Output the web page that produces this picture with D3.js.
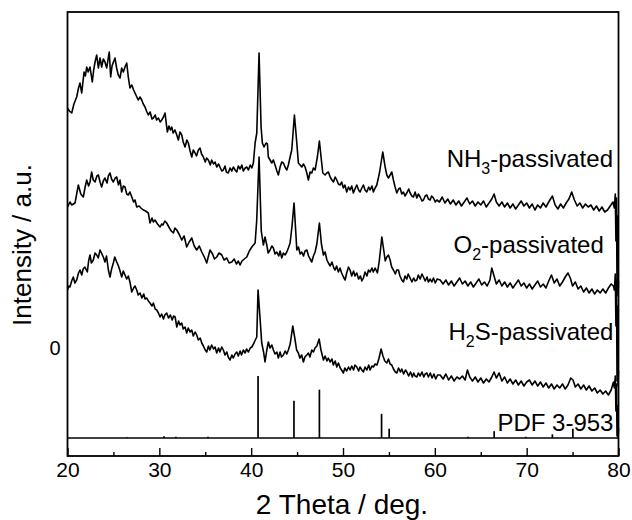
<!DOCTYPE html>
<html>
<head>
<meta charset="utf-8">
<script src="https://cdn.jsdelivr.net/npm/d3@7"></script>
<style>
  body { margin: 0; background: #fff; }
  svg { display: block; }
  text { font-family: "Liberation Sans", Arial, sans-serif; fill: #000; }
</style>
</head>
<body>
<svg id="chart" width="632" height="520"></svg>
<script>
// XRD patterns, [2theta, intensity (a.u., stacked)]
const nh3 = [[20.0,348],[20.2,345],[20.46,343],[20.7,352],[21.0,359],[21.2,368],[21.36,373],[21.55,363],[21.8,384],[21.95,380],[22.09,389],[22.25,384],[22.45,389],[22.6,380],[22.7,374],[22.85,386],[23.0,394],[23.18,401],[23.36,388],[23.54,398],[23.72,389],[23.9,397],[24.08,394],[24.27,388],[24.42,397],[24.55,404],[24.7,379],[24.85,390],[25.0,394],[25.17,398],[25.35,388],[25.53,381],[25.72,378],[25.9,388],[26.08,384],[26.3,390],[26.45,393],[26.62,379],[26.8,368],[27.0,371],[27.2,366],[27.35,363],[27.5,360],[27.7,356],[27.9,359],[28.08,356],[28.25,352],[28.44,349],[28.6,345],[28.8,341],[29.0,344],[29.2,337],[29.35,338],[29.55,341],[29.7,336],[29.9,338],[30.1,334],[30.26,336],[30.45,339],[30.62,343],[30.87,324],[31.05,330],[31.2,326],[31.35,329],[31.5,323],[31.7,326],[31.9,321],[32.07,316],[32.25,324],[32.44,321],[32.6,314],[32.8,309],[33.0,316],[33.16,313],[33.35,305],[33.53,299],[33.7,306],[33.89,303],[34.05,300],[34.25,306],[34.43,308],[34.6,302],[34.8,299],[35.0,294],[35.15,298],[35.34,296],[35.55,291],[35.7,296],[35.9,292],[36.07,294],[36.25,289],[36.45,292],[36.6,289],[36.8,285],[36.97,286],[37.15,290],[37.3,284],[37.5,283],[37.7,288],[37.9,285],[38.06,289],[38.25,286],[38.43,284],[38.6,290],[38.8,287],[38.98,291],[39.15,285],[39.35,288],[39.52,289],[39.7,286],[39.9,291],[40.07,288],[40.24,293],[40.43,313],[40.61,323],[40.86,403],[41.08,329],[41.22,313],[41.4,309],[41.62,313],[41.77,312],[41.87,299],[42.06,296],[42.24,293],[42.42,296],[42.6,291],[42.8,285],[42.96,281],[43.15,289],[43.33,294],[43.51,293],[43.69,289],[43.88,286],[44.05,291],[44.24,299],[44.42,306],[44.71,341],[44.97,313],[45.14,293],[45.33,291],[45.51,289],[45.7,292],[45.87,289],[46.06,283],[46.23,276],[46.42,284],[46.6,283],[46.78,288],[46.96,286],[47.21,299],[47.43,315],[47.61,299],[47.8,283],[48.05,281],[48.23,283],[48.41,284],[48.6,279],[48.8,276],[48.96,274],[49.15,279],[49.32,276],[49.5,272],[49.68,271],[49.85,274],[50.04,268],[50.2,271],[50.41,264],[50.6,269],[50.77,266],[50.95,270],[51.13,263],[51.3,267],[51.5,271],[51.7,266],[51.86,264],[52.05,268],[52.22,271],[52.4,266],[52.59,264],[52.8,269],[52.95,266],[53.15,270],[53.31,264],[53.5,268],[53.68,271],[53.97,283],[54.33,304],[54.59,289],[54.77,281],[54.95,278],[55.13,281],[55.31,284],[55.49,276],[55.67,269],[55.86,263],[56.05,267],[56.22,268],[56.4,262],[56.58,264],[56.75,260],[56.95,263],[57.15,267],[57.31,263],[57.5,260],[57.67,259],[57.85,264],[58.04,258],[58.2,262],[58.4,259],[58.6,255],[58.76,256],[58.95,260],[59.13,261],[59.3,257],[59.49,256],[59.65,260],[59.85,258],[60.05,254],[60.22,256],[60.5,254],[60.8,259],[61.1,253],[61.4,257],[61.7,252],[62.0,256],[62.3,251],[62.6,255],[62.9,250],[63.2,254],[63.5,258],[63.8,252],[64.1,255],[64.4,250],[64.7,254],[65.0,251],[65.3,255],[65.6,249],[65.9,253],[66.2,257],[66.45,262],[66.7,254],[67.0,250],[67.3,254],[67.6,249],[67.9,253],[68.2,248],[68.5,252],[68.8,247],[69.1,251],[69.4,255],[69.7,250],[70.0,253],[70.3,248],[70.6,252],[70.9,246],[71.2,251],[71.5,248],[71.8,253],[72.1,249],[72.4,254],[72.8,260],[73.1,251],[73.4,247],[73.7,252],[74.0,248],[74.3,253],[74.6,257],[74.9,264],[75.2,256],[75.5,250],[75.8,253],[76.1,248],[76.4,252],[76.7,249],[77.0,251],[77.3,246],[77.6,250],[77.9,245],[78.2,249],[78.5,244],[78.8,246],[79.1,250],[79.4,254],[79.55,248],[79.65,262],[79.72,215],[79.78,258],[79.84,165],[79.9,240],[79.95,160],[80.0,175]];

const o2 = [[20.0,249],[20.27,254],[20.46,251],[20.82,253],[21.0,262],[21.18,271],[21.45,262],[21.72,259],[21.9,268],[22.09,276],[22.3,270],[22.45,274],[22.63,284],[22.8,276],[23.0,274],[23.2,280],[23.36,281],[23.55,274],[23.72,269],[23.9,275],[24.08,278],[24.3,273],[24.45,280],[24.63,283],[24.8,277],[24.99,274],[25.2,278],[25.36,279],[25.55,271],[25.72,276],[25.9,264],[26.08,270],[26.26,269],[26.45,262],[26.62,261],[26.8,264],[27.0,259],[27.2,254],[27.35,256],[27.54,249],[27.8,250],[28.0,248],[28.26,246],[28.5,245],[28.8,243],[28.99,233],[29.2,238],[29.35,234],[29.53,236],[29.8,232],[30.08,229],[30.25,232],[30.4,231],[30.6,235],[30.8,233],[31.1,228],[31.3,225],[31.53,223],[31.7,228],[31.9,226],[32.2,221],[32.44,216],[32.7,220],[32.98,209],[33.25,214],[33.53,218],[33.8,210],[34.07,206],[34.35,210],[34.62,204],[34.9,199],[35.16,193],[35.35,200],[35.52,206],[35.8,202],[36.0,197],[36.25,199],[36.5,203],[36.8,201],[37.05,196],[37.34,198],[37.6,193],[37.89,194],[38.15,197],[38.4,192],[38.6,195],[38.79,191],[39.0,195],[39.25,197],[39.52,199],[39.8,205],[40.07,209],[40.25,211],[40.43,213],[40.6,235],[40.86,299],[41.1,225],[41.33,211],[41.51,219],[41.7,211],[41.85,203],[42.06,206],[42.25,210],[42.42,208],[42.6,202],[42.79,204],[43.0,200],[43.15,205],[43.33,198],[43.5,203],[43.69,201],[43.88,204],[44.05,208],[44.24,213],[44.45,230],[44.67,253],[44.85,225],[44.97,206],[45.15,209],[45.33,202],[45.51,204],[45.7,200],[45.87,205],[46.06,206],[46.25,200],[46.42,197],[46.6,194],[46.78,200],[46.96,204],[47.15,212],[47.43,233],[47.65,212],[47.87,201],[48.05,204],[48.25,196],[48.41,193],[48.6,190],[48.8,194],[49.0,188],[49.14,186],[49.3,190],[49.5,184],[49.68,188],[49.85,183],[50.05,179],[50.23,176],[50.4,183],[50.6,189],[50.77,186],[50.95,180],[51.15,185],[51.3,180],[51.5,183],[51.7,177],[51.9,180],[52.05,175],[52.22,178],[52.4,184],[52.6,180],[52.78,186],[52.95,184],[53.15,188],[53.3,184],[53.5,188],[53.75,183],[53.95,195],[54.23,219],[54.45,205],[54.6,195],[54.77,199],[54.95,201],[55.13,196],[55.3,189],[55.49,186],[55.7,182],[55.85,186],[56.04,186],[56.2,180],[56.4,176],[56.58,174],[56.75,180],[56.95,177],[57.1,182],[57.31,178],[57.5,174],[57.7,178],[57.85,175],[58.04,176],[58.2,181],[58.4,177],[58.6,182],[58.76,179],[58.95,175],[59.15,179],[59.3,174],[59.5,177],[59.67,174],[59.85,178],[60.05,173],[60.25,177],[60.58,176],[60.9,172],[61.2,176],[61.5,171],[61.8,175],[62.1,170],[62.4,174],[62.7,178],[63.0,172],[63.3,175],[63.6,170],[63.9,174],[64.2,169],[64.5,173],[64.8,177],[65.1,171],[65.4,174],[65.7,170],[66.0,176],[66.2,188],[66.45,180],[66.7,172],[67.0,176],[67.3,170],[67.6,174],[67.9,169],[68.2,173],[68.5,168],[68.8,172],[69.1,176],[69.4,170],[69.7,173],[70.0,168],[70.3,172],[70.6,167],[70.9,171],[71.2,175],[71.5,169],[71.8,172],[72.1,168],[72.4,175],[72.7,181],[73.0,173],[73.3,177],[73.6,170],[73.9,174],[74.2,179],[74.5,183],[74.75,178],[75.0,170],[75.3,174],[75.6,167],[75.9,170],[76.2,164],[76.5,168],[76.8,163],[77.1,167],[77.4,162],[77.7,166],[78.0,163],[78.3,167],[78.6,163],[78.9,168],[79.2,172],[79.45,170],[79.55,166],[79.65,182],[79.72,130],[79.78,176],[79.84,75],[79.9,150],[79.95,70],[80.0,85]];

const h2s = [[20.0,166],[20.15,170],[20.27,169],[20.45,175],[20.63,179],[20.8,173],[21.0,176],[21.2,183],[21.36,186],[21.55,181],[21.7,187],[21.9,189],[22.05,186],[22.16,184],[22.3,195],[22.45,201],[22.6,193],[22.81,196],[23.0,203],[23.18,201],[23.35,198],[23.54,206],[23.7,203],[23.9,199],[24.08,194],[24.25,200],[24.45,186],[24.63,179],[24.8,187],[24.99,193],[25.15,199],[25.36,194],[25.55,190],[25.72,185],[25.9,179],[26.08,185],[26.26,181],[26.45,177],[26.62,180],[26.8,174],[27.0,164],[27.2,168],[27.35,170],[27.54,166],[27.7,161],[27.9,163],[28.1,158],[28.3,162],[28.45,157],[28.63,158],[28.8,155],[28.99,153],[29.2,150],[29.35,153],[29.55,147],[29.72,146],[29.9,143],[30.08,139],[30.25,142],[30.45,137],[30.6,141],[30.8,143],[31.0,138],[31.2,141],[31.4,136],[31.55,140],[31.72,139],[31.9,129],[32.1,135],[32.25,131],[32.44,133],[32.6,127],[32.8,129],[32.98,123],[33.15,128],[33.35,124],[33.53,126],[33.7,120],[33.9,124],[34.07,121],[34.25,116],[34.45,118],[34.62,113],[34.8,110],[35.0,106],[35.16,104],[35.35,110],[35.5,106],[35.7,111],[35.9,107],[36.07,109],[36.25,103],[36.45,108],[36.6,104],[36.8,109],[36.97,106],[37.15,101],[37.35,104],[37.5,99],[37.7,96],[37.9,101],[38.05,98],[38.25,102],[38.43,104],[38.6,100],[38.8,105],[38.95,101],[39.15,106],[39.34,103],[39.5,107],[39.7,104],[39.9,108],[40.07,109],[40.25,112],[40.45,116],[40.61,119],[40.75,166],[40.95,140],[41.15,113],[41.35,104],[41.51,94],[41.7,106],[41.87,114],[42.05,108],[42.25,111],[42.42,106],[42.6,102],[42.8,104],[42.96,98],[43.15,104],[43.3,99],[43.51,101],[43.7,105],[43.88,102],[44.05,106],[44.25,112],[44.53,130],[44.75,118],[44.95,106],[45.14,103],[45.3,98],[45.5,101],[45.69,94],[45.85,99],[46.05,101],[46.23,103],[46.4,99],[46.6,106],[46.78,104],[46.95,108],[47.15,110],[47.4,117],[47.6,106],[47.87,96],[48.05,100],[48.25,95],[48.4,98],[48.6,94],[48.8,97],[48.95,91],[49.15,95],[49.32,89],[49.5,93],[49.7,88],[49.85,86],[50.04,83],[50.2,88],[50.4,85],[50.6,89],[50.77,86],[50.95,90],[51.15,86],[51.3,91],[51.5,89],[51.7,85],[51.85,89],[52.05,86],[52.22,84],[52.4,89],[52.6,86],[52.8,91],[52.95,86],[53.15,90],[53.31,89],[53.5,92],[53.7,91],[53.9,97],[54.15,107],[54.35,100],[54.55,95],[54.77,93],[54.95,97],[55.13,92],[55.31,91],[55.5,87],[55.7,84],[55.86,83],[56.05,88],[56.25,84],[56.4,87],[56.6,82],[56.8,86],[56.95,84],[57.15,80],[57.35,84],[57.55,79],[57.7,83],[57.85,80],[58.04,79],[58.2,83],[58.4,80],[58.6,84],[58.8,79],[58.95,82],[59.13,83],[59.3,79],[59.5,83],[59.7,78],[59.9,82],[60.1,77],[60.3,81],[60.58,81],[60.9,77],[61.2,82],[61.5,76],[61.8,80],[62.1,75],[62.4,79],[62.7,77],[63.0,80],[63.3,76],[63.55,86],[63.8,79],[64.1,75],[64.4,79],[64.7,74],[65.0,78],[65.3,73],[65.6,77],[65.9,74],[66.2,79],[66.45,84],[66.7,78],[67.0,83],[67.3,75],[67.6,79],[67.9,73],[68.2,77],[68.5,72],[68.8,76],[69.1,71],[69.4,75],[69.7,70],[70.0,74],[70.3,76],[70.6,71],[70.9,75],[71.2,70],[71.5,74],[71.8,69],[72.1,73],[72.4,68],[72.7,72],[73.0,67],[73.3,71],[73.6,68],[73.9,72],[74.2,67],[74.5,71],[74.8,78],[75.05,76],[75.3,69],[75.6,72],[75.9,67],[76.2,71],[76.5,66],[76.8,70],[77.1,65],[77.4,68],[77.7,63],[78.0,66],[78.3,62],[78.6,65],[78.9,61],[79.2,66],[79.45,74],[79.55,68],[79.65,80],[79.72,45],[79.78,72],[79.84,20],[79.9,50],[79.95,18],[80.0,28]];

// PDF 3-953 reference lines (relative intensity %)
const pdfAngle = [26.5, 30.5, 31.8, 35.3, 40.75, 44.66, 47.43, 54.2, 55.03, 63.6, 66.46, 69.9, 72.8, 75.03];
const pdfRel   = [1, 3, 2, 2, 100, 60, 78, 39, 15, 2, 11, 2, 6, 15];
const pdfBase = 18, pdfScale = 0.62;

const majorTicks = [20, 30, 40, 50, 60, 70, 80];
const minorTicks = [25, 35, 45, 55, 65, 75];

const svg = d3.select("#chart");
const mLeft = 67.5, mRight = 618.5, mTop = 12, mBottom = 456;

const x = d3.scaleLinear().domain([20, 80]).range([mLeft, mRight]);
const y = d3.scaleLinear().domain([0, 444]).range([mBottom, mTop]);

const line = d3.line().x(d => x(d[0])).y(d => y(d[1]));

const plot = svg.append("g");

// traces
[nh3, o2, h2s].forEach(s => {
    plot.append("path")
        .datum(s)
        .attr("d", line)
        .attr("fill", "none")
        .attr("stroke", "#000")
        .attr("stroke-width", 1.6)
        .attr("stroke-linejoin", "round");
});

// PDF baseline + sticks
plot.append("line")
    .attr("x1", x(20)).attr("x2", x(80))
    .attr("y1", y(pdfBase)).attr("y2", y(pdfBase))
    .attr("stroke", "#000").attr("stroke-width", 1.4);

plot.selectAll("line.stick")
    .data(pdfAngle)
    .join("line")
    .attr("class", "stick")
    .attr("x1", d => x(d)).attr("x2", d => x(d))
    .attr("y1", y(pdfBase))
    .attr("y2", (d, i) => y(pdfBase + pdfRel[i] * pdfScale))
    .attr("stroke", "#000").attr("stroke-width", 1.7);

// axis (ticks inward)
svg.append("g")
    .attr("transform", `translate(0,${mBottom})`)
    .call(d3.axisBottom(x).tickValues(majorTicks).tickSize(-8).tickPadding(6).tickFormat(d3.format("d")))
    .call(g => g.select(".domain").remove())
    .call(g => g.selectAll(".tick line").attr("stroke", "#000").attr("stroke-width", 1.4))
    .call(g => g.selectAll(".tick text").attr("font-size", 21).attr("font-family", "Liberation Sans, Arial, sans-serif"));

svg.append("g")
    .attr("transform", `translate(0,${mBottom})`)
    .call(d3.axisBottom(x).tickValues(minorTicks).tickSize(-4).tickFormat(""))
    .call(g => g.select(".domain").remove())
    .call(g => g.selectAll(".tick line").attr("stroke", "#000").attr("stroke-width", 1.4));

// frame
svg.append("rect")
    .attr("x", mLeft).attr("y", mTop)
    .attr("width", mRight - mLeft).attr("height", mBottom - mTop)
    .attr("fill", "none").attr("stroke", "#000").attr("stroke-width", 1.8);

// labels
const labelData = [
    {main: "NH", sub: "3", rest: "-passivated", at: [79.4, 289]},
    {main: "O", sub: "2", rest: "-passivated", at: [78.4, 203]},
    {main: "H", sub: "2", rest: "S-passivated", at: [79.45, 116]},
    {main: "PDF 3-953", sub: "", rest: "", at: [79.45, 25]}
];
labelData.forEach(l => {
    const t = svg.append("text")
        .attr("x", x(l.at[0])).attr("y", y(l.at[1]))
        .attr("text-anchor", "end")
        .attr("font-size", 24);
    t.append("tspan").text(l.main);
    if (l.sub) {
        t.append("tspan").text(l.sub).attr("font-size", 16).attr("dy", 7);
        t.append("tspan").text(l.rest).attr("dy", -7);
    }
});

svg.append("text")
    .attr("x", 342).attr("y", 514)
    .attr("text-anchor", "middle").attr("font-size", 28)
    .text("2 Theta / deg.");

svg.append("text")
    .attr("transform", `translate(31,${245}) rotate(-90)`)
    .attr("text-anchor", "middle").attr("font-size", 26)
    .text("Intensity / a.u.");

svg.append("text")
    .attr("x", 55).attr("y", y(101))
    .attr("text-anchor", "middle").attr("font-size", 20)
    .text("0");
</script>
</body>
</html>
